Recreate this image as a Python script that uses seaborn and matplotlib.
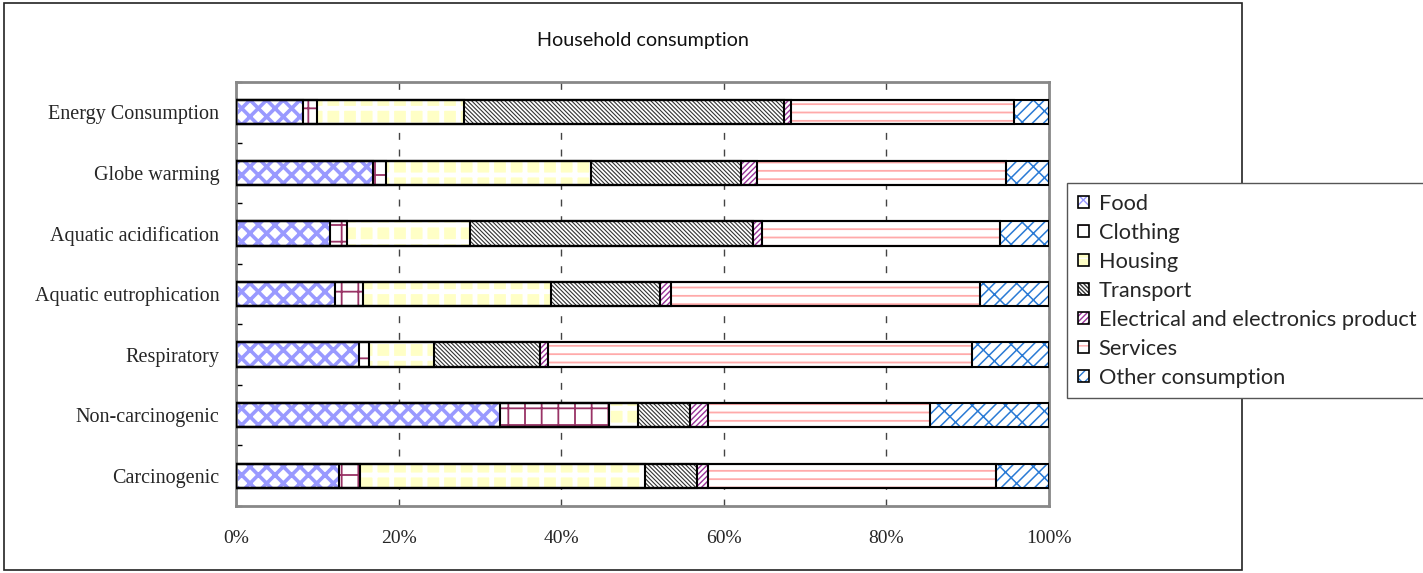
import numpy as np
import pandas as pd
import matplotlib
matplotlib.use("Agg")
import matplotlib.pyplot as plt
import seaborn as sns
from matplotlib.patches import Patch, Rectangle
from matplotlib.ticker import FixedLocator, FuncFormatter

# ---- data (percent share of each consumption category) ----
categories = ["Energy Consumption", "Globe warming", "Aquatic acidification",
              "Aquatic eutrophication", "Respiratory", "Non-carcinogenic", "Carcinogenic"]
series_names = ["Food", "Clothing", "Housing", "Transport",
                "Electrical and electronics product", "Services", "Other consumption"]
food = [8.2, 16.8, 11.6, 12.2, 15.1, 32.5, 12.7]
clothing = [1.8, 1.6, 2.0, 3.4, 1.2, 13.4, 2.5]
housing = [18.1, 25.3, 15.2, 23.2, 8.1, 3.5, 35.1]
transport = [39.3, 18.4, 34.8, 13.3, 13.0, 6.4, 6.4]
electronics = [0.9, 2.0, 1.1, 1.4, 1.0, 2.2, 1.3]
services = [27.4, 30.6, 29.3, 38.0, 52.1, 27.4, 35.5]
other = [4.3, 5.3, 6.0, 8.5, 9.5, 14.6, 6.5]
x_ticks = [0, 20, 40, 60, 80, 100]

# ---- styling per series: face colour, hatch, hatch colour, hatch width ----
styles = {
    "Food": ("white", "xx", "#9999ff", 2.6),
    "Clothing": ("white", "+", "#993366", 1.3),
    "Housing": ("#ffffc6", "+", "white", 3.5),
    "Transport": ("white", "\\" * 8, "#333333", 0.8),
    "Electrical and electronics product": ("white", "/" * 6, "#993399", 1.0),
    "Services": ("white", "--", "#ffaaaa", 1.3),
    "Other consumption": ("white", "///\\", "#2a7ad5", 1.1),
}

sns.set_theme(style="white")
plt.rcParams["font.family"] = ["Liberation Serif", "DejaVu Serif"]

df = pd.DataFrame({"category": categories, "Food": food, "Clothing": clothing,
                   "Housing": housing, "Transport": transport,
                   "Electrical and electronics product": electronics,
                   "Services": services, "Other consumption": other})
shares = df[series_names].div(df[series_names].sum(axis=1), axis=0) * 100
cum = shares.cumsum(axis=1)

W, H = 1423, 573
fig = plt.figure(figsize=(W / 100, H / 100), dpi=100)
ax = fig.add_axes([236 / W, 1 - 506 / H, (1049 - 236) / W, (506 - 82) / H])

bar_w = 0.4
# hatched fills: longest cumulative bar first, shorter ones on top
for name in reversed(series_names):
    face, hatch, hc, hlw = styles[name]
    n0 = len(ax.patches)
    with plt.rc_context({"hatch.linewidth": hlw}):
        sns.barplot(x=cum[name], y=df["category"], order=categories, orient="h",
                    color=face, saturation=1, width=bar_w, hatch=hatch,
                    edgecolor=hc, linewidth=0, errorbar=None, ax=ax, zorder=2)
    for p in ax.patches[n0:]:
        if hasattr(p, "set_hatch_linewidth"):
            p.set_hatch_linewidth(hlw)

# black segment outlines
for name in series_names:
    sns.barplot(x=cum[name], y=df["category"], order=categories, orient="h",
                fill=False, color="black", width=bar_w, linewidth=1.5,
                errorbar=None, ax=ax, zorder=3)

ax.set_xlim(0, 100)
ax.set_ylim(len(categories) - 0.5, -0.5)
ax.set_xlabel("")
ax.set_ylabel("")
ax.xaxis.set_major_locator(FixedLocator(x_ticks))
ax.xaxis.set_major_formatter(FuncFormatter(lambda v, _: f"{v:.0f}%"))
ax.tick_params(axis="x", length=0, pad=17, labelsize=14)
ax.tick_params(axis="y", which="major", length=0, pad=12, labelsize=14.5)
ax.yaxis.set_minor_locator(FixedLocator(np.arange(-0.5, len(categories), 1.0)))
ax.tick_params(axis="y", which="minor", left=True, direction="in", length=4,
               width=1, color="black")

ax.set_axisbelow(True)
ax.xaxis.grid(True, linestyle=(0, (5, 7)), color="#444444", linewidth=1)
ax.yaxis.grid(False)
for s in ax.spines.values():
    s.set_color("#888888")
    s.set_linewidth(2)
    s.set_visible(True)

ax.set_title("Household consumption", family=["Lato", "DejaVu Sans"],
             fontsize=14.2, pad=26, color="#111111")

# outer frame around the chart
fig.add_artist(Rectangle((4 / W, 3 / H), 1238 / W, 567 / H, transform=fig.transFigure,
                         fill=False, edgecolor="#222222", linewidth=1.2, zorder=0))

handles = []
for name in series_names:
    face, hatch, hc, hlw = styles[name]
    handles.append((Patch(facecolor=face, hatch=hatch, edgecolor=hc, linewidth=0),
                    Patch(fill=False, edgecolor="black", linewidth=1.2)))
leg = fig.legend(handles, series_names, loc="upper left",
                 bbox_to_anchor=(1067 / W, 1 - 183 / H), frameon=True, fancybox=False,
                 edgecolor="#555555", framealpha=1, facecolor="white",
                 prop={"family": ["Lato", "DejaVu Sans"], "size": 15.7},
                 handlelength=0.5, handleheight=0.5, handletextpad=0.45,
                 labelspacing=0.41, borderpad=0.5, borderaxespad=0)
leg.set_zorder(10)
leg.get_frame().set_linewidth(1)

fig.savefig("out.png", dpi=100)
